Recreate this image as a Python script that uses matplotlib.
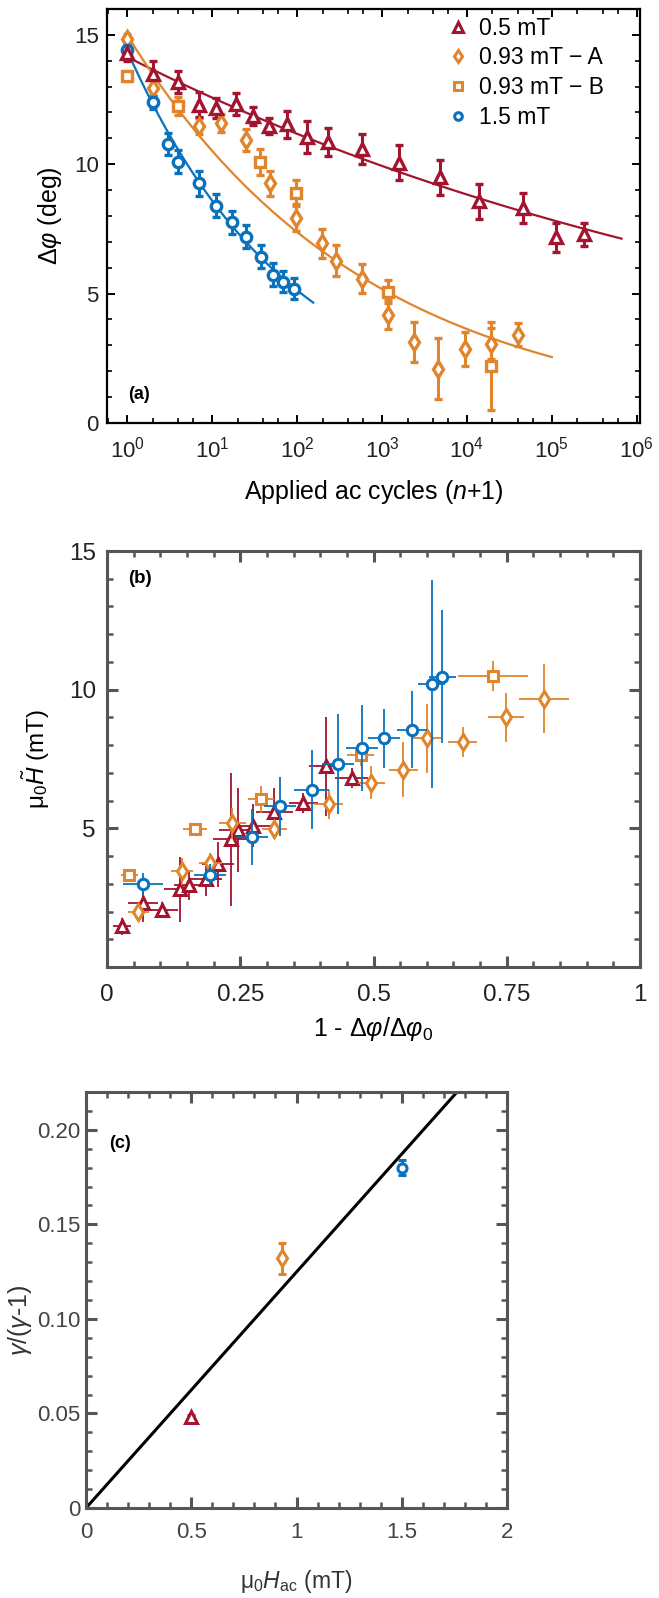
import numpy as np
import matplotlib
matplotlib.use("Agg")
import matplotlib.pyplot as plt
from matplotlib.ticker import LogLocator, MultipleLocator, FixedLocator, NullFormatter

plt.rcParams['font.family'] = ['Liberation Sans', 'DejaVu Sans']
plt.rcParams['mathtext.fontset'] = 'custom'
plt.rcParams['mathtext.rm'] = 'Liberation Sans'
plt.rcParams['mathtext.it'] = 'Liberation Sans:italic'
plt.rcParams['mathtext.bf'] = 'Liberation Sans:bold'

RED = '#A2142F'
ORANGE = '#E0852B'
BLUE = '#0A72BD'
GRAY = '#555555'

# ---------------- panel (a) data ----------------
red_a_x = [1, 2, 4, 7, 11, 19, 30, 47, 76, 130, 230, 580, 1600, 4800, 14000, 46000, 112000, 240000]
red_a_y = [14.3, 13.5, 13.18, 12.3, 12.17, 12.33, 11.86, 11.47, 11.55, 11.05, 10.85, 10.6, 10.06, 9.5, 8.57, 8.3, 7.17, 7.29]
red_a_e = [0.3, 0.48, 0.42, 0.48, 0.39, 0.42, 0.36, 0.32, 0.52, 0.61, 0.55, 0.58, 0.68, 0.68, 0.68, 0.58, 0.55, 0.45]

ora_A_x = [1, 2, 7, 12.8, 25, 48, 97, 196, 290, 580, 1170, 2400, 4560, 9500, 19000, 40000]
ora_A_y = [14.85, 12.95, 11.47, 11.59, 10.93, 9.26, 7.93, 6.94, 6.28, 5.58, 4.19, 3.14, 2.09, 2.87, 3.06, 3.41]
ora_A_e = [0.2, 0.3, 0.32, 0.36, 0.42, 0.48, 0.52, 0.55, 0.58, 0.55, 0.55, 0.78, 1.18, 0.66, 0.6, 0.45]

ora_B_x = [1, 4, 36.5, 97, 1170, 19000]
ora_B_y = [13.4, 12.25, 10.08, 8.9, 5.08, 2.2]
ora_B_e = [0.2, 0.35, 0.5, 0.5, 0.45, 1.7]

blue_a_x = [1, 2, 3, 4, 7, 11, 17, 25, 37.6, 52, 68, 92]
blue_a_y = [14.4, 12.4, 10.78, 10.1, 9.26, 8.4, 7.76, 7.2, 6.43, 5.73, 5.46, 5.19]
blue_a_e = [0.2, 0.25, 0.42, 0.45, 0.48, 0.45, 0.45, 0.45, 0.45, 0.45, 0.4, 0.4]

# power-law fits  dphi = A * (n+1)^(-p)
fit_amp = [14.15, 15.0, 14.4]
fit_exp = [0.0512, 0.154, 0.224]
fit_xmax = [6.6e5, 1.0e5, 155]
fit_col = [RED, ORANGE, BLUE]

legend_labels = ['0.5 mT', '0.93 mT \u2212 A', '0.93 mT \u2212 B', '1.5 mT']

# ---------------- panel (b) data ----------------
red_b_x = [0.028, 0.067, 0.104, 0.137, 0.154, 0.185, 0.209, 0.233, 0.246, 0.274, 0.314, 0.368, 0.410, 0.459]
red_b_y = [1.47, 2.30, 2.05, 2.80, 2.95, 3.17, 3.70, 4.60, 4.94, 5.10, 5.60, 5.90, 7.23, 6.80]
red_b_xe = [0.017, 0.028, 0.03, 0.03, 0.028, 0.03, 0.03, 0.035, 0.035, 0.035, 0.035, 0.027, 0.031, 0.031]
red_b_ye = [0.3, 0.66, 0.3, 1.17, 0.55, 0.6, 0.8, 2.4, 1.5, 0.77, 0.85, 0.36, 1.8, 0.36]

oraA_b_x = [0.059, 0.141, 0.194, 0.235, 0.314, 0.416, 0.496, 0.556, 0.600, 0.667, 0.748, 0.820]
oraA_b_y = [2.00, 3.45, 3.74, 5.18, 4.96, 5.86, 6.65, 7.12, 8.24, 8.10, 9.00, 9.68]
oraA_b_xe = [0.02, 0.02, 0.022, 0.025, 0.024, 0.027, 0.025, 0.027, 0.027, 0.028, 0.034, 0.047]
oraA_b_ye = [0.25, 0.48, 0.36, 0.57, 0.33, 0.54, 0.6, 1.0, 1.23, 0.54, 0.87, 1.24]

oraB_b_x = [0.042, 0.165, 0.289, 0.476, 0.724]
oraB_b_y = [3.30, 4.96, 6.04, 7.66, 10.50]
oraB_b_xe = [0.016, 0.022, 0.025, 0.025, 0.065]
oraB_b_ye = [0.18, 0.2, 0.5, 0.4, 0.55]

blue_b_x = [0.068, 0.194, 0.272, 0.325, 0.384, 0.434, 0.479, 0.519, 0.573, 0.609, 0.629]
blue_b_y = [2.98, 3.31, 4.68, 5.79, 6.40, 7.33, 7.90, 8.24, 8.56, 10.20, 10.47]
blue_b_xe = [0.0375, 0.03, 0.03, 0.03, 0.033, 0.03, 0.03, 0.03, 0.028, 0.026, 0.025]
blue_b_ye = [0.42, 0.4, 1.0, 1.05, 1.44, 1.8, 1.56, 1.08, 1.38, 3.75, 2.4]

# ---------------- panel (c) data ----------------
c_x = [0.5, 0.93, 1.5]
c_y = [0.048, 0.132, 0.180]
c_ye = [0.001, 0.008, 0.004]
c_markers = ['^', 'd', 'o']
c_colors = [RED, ORANGE, BLUE]
c_slope = 0.1248
c_line_x = [0.0, 2.0]

fig = plt.figure(figsize=(6.59, 15.98), dpi=100)

# ================= (a) =================
ax = fig.add_axes([107/659, 1-423/1598, 533/659, 414/1598])
ax.set_xscale('log')
for A, p, xm, col in zip(fit_amp, fit_exp, fit_xmax, fit_col):
    xx = np.logspace(0, np.log10(xm), 200)
    ax.plot(xx, A * xx ** (-p), color=col, lw=1.6, zorder=1)

ekw = dict(elinewidth=2.2, capsize=3, capthick=2.2, mfc='white', mew=2.4, ls='none', zorder=3)
ax.errorbar(ora_B_x, ora_B_y, yerr=ora_B_e, marker='s', ms=6.5, color=ORANGE, **ekw)
ax.errorbar(ora_A_x, ora_A_y, yerr=ora_A_e, marker='d', ms=8, color=ORANGE, **ekw)
ax.errorbar(blue_a_x, blue_a_y, yerr=blue_a_e, marker='o', ms=7.5, color=BLUE, **ekw)
ax.errorbar(red_a_x, red_a_y, yerr=red_a_e, marker='^', ms=9, color=RED, **ekw)

lh = [ax.plot([], [], ls='none', marker=m, ms=ms, mfc='white', mew=2.2, color=c)[0]
      for m, ms, c in zip(['^', 'd', 's', 'o'], [6.5, 6.5, 5.5, 5.5], [RED, ORANGE, ORANGE, BLUE])]
ax.legend(lh, legend_labels, loc='upper left', bbox_to_anchor=(0.615, 1.015), frameon=False,
          fontsize=16.5, handlelength=0.8, handletextpad=0.55, labelspacing=0.3, borderaxespad=0.2)

ax.set_xlim(0.58, 1.09e6)
ax.set_ylim(0, 16)
ax.set_xticks([1, 10, 100, 1e3, 1e4, 1e5, 1e6])
ax.xaxis.set_minor_locator(LogLocator(base=10, subs=(2, 4, 6), numticks=20))
ax.xaxis.set_minor_formatter(NullFormatter())
ax.yaxis.set_major_locator(FixedLocator([0, 5, 10, 15]))
ax.yaxis.set_minor_locator(MultipleLocator(1))
ax.tick_params(which='both', direction='in', top=True, right=True, color='black')
ax.tick_params(which='major', length=6, width=1.4, labelsize=16, pad=6, labelcolor='#222222')
ax.tick_params(axis='x', which='major', pad=10)
ax.tick_params(which='minor', length=3.5, width=1.2)
for s in ax.spines.values():
    s.set_linewidth(1.6)
ax.set_xlabel('Applied ac cycles ($n$+1)', fontsize=18, labelpad=11)
ax.set_ylabel(r'$\Delta\varphi$ (deg)', fontsize=18, labelpad=7)
ax.text(0.04, 0.068, '(a)', transform=ax.transAxes, fontsize=13, fontweight='bold', ha='left', va='center')

# ================= (b) =================
bx = fig.add_axes([107/659, 1-967/1598, 533/659, 416/1598])
bkw = dict(elinewidth=1.3, capsize=0, mfc='white', mew=2.2, ls='none')
bx.errorbar(red_b_x, red_b_y, xerr=red_b_xe, yerr=red_b_ye, marker='^', ms=9, color=RED, zorder=3, **bkw)
bx.errorbar(oraA_b_x, oraA_b_y, xerr=oraA_b_xe, yerr=oraA_b_ye, marker='d', ms=8, color=ORANGE, zorder=4, **bkw)
bx.errorbar(oraB_b_x, oraB_b_y, xerr=oraB_b_xe, yerr=oraB_b_ye, marker='s', ms=6.5, color=ORANGE, zorder=4, **bkw)
bx.errorbar(blue_b_x, blue_b_y, xerr=blue_b_xe, yerr=blue_b_ye, marker='o', ms=7.5, color=BLUE, zorder=5, **bkw)
bx.set_xlim(0, 1)
bx.set_ylim(0, 15)
bx.xaxis.set_major_locator(FixedLocator([0, 0.25, 0.5, 0.75, 1]))
bx.set_xticklabels(['0', '0.25', '0.5', '0.75', '1'])
bx.xaxis.set_minor_locator(MultipleLocator(0.05))
bx.yaxis.set_major_locator(FixedLocator([5, 10, 15]))
bx.yaxis.set_minor_locator(MultipleLocator(1))
bx.tick_params(which='both', direction='in', top=True, right=True, color=GRAY)
bx.tick_params(which='major', length=8, width=2.2, labelsize=17.5, pad=8, labelcolor='#222222')
bx.tick_params(axis='x', which='major', pad=12)
bx.tick_params(which='minor', length=4.5, width=1.8)
for s in bx.spines.values():
    s.set_linewidth(2.2)
    s.set_color(GRAY)
bx.set_xlabel(r'1 - $\Delta\varphi/\Delta\varphi_0$', fontsize=18, labelpad=7)
bx.set_ylabel('\u03bc$_0\\tilde{H}$ (mT)', fontsize=17.5, labelpad=12)
bx.text(0.04, 0.935, '(b)', transform=bx.transAxes, fontsize=13.5, fontweight='bold', ha='left', va='center')

# ================= (c) =================
cx = fig.add_axes([86/659, 1-1508/1598, 421/659, 416/1598])
cx.plot(c_line_x, [c_slope * v for v in c_line_x], color='black', lw=2.2, zorder=2)
for xv, yv, ye, m, col in zip(c_x, c_y, c_ye, c_markers, c_colors):
    cx.errorbar([xv], [yv], yerr=[ye], marker=m, ms=8 if m != 'o' else 6.5, color=col, mfc='white', mew=2.2,
                elinewidth=2.2, capsize=3, capthick=2.2, ls='none', zorder=3)
cx.set_xlim(0, 2)
cx.set_ylim(0, 0.22)
cx.xaxis.set_major_locator(FixedLocator([0, 0.5, 1, 1.5, 2]))
cx.set_xticklabels(['0', '0.5', '1', '1.5', '2'])
cx.xaxis.set_minor_locator(MultipleLocator(0.1))
cx.yaxis.set_major_locator(FixedLocator([0, 0.05, 0.10, 0.15, 0.20]))
cx.set_yticklabels(['0', '0.05', '0.10', '0.15', '0.20'])
cx.yaxis.set_minor_locator(MultipleLocator(0.01))
cx.tick_params(which='both', direction='in', top=True, right=True, color=GRAY)
cx.tick_params(which='major', length=8, width=2.2, labelsize=16, pad=4, labelcolor='#444444')
cx.tick_params(axis='x', which='major', pad=10)
cx.tick_params(which='minor', length=4.5, width=1.8)
for s in cx.spines.values():
    s.set_linewidth(2.2)
    s.set_color(GRAY)
cx.set_xlabel('\u03bc$_0$$H_{\\rm ac}$ (mT)', fontsize=16.5, labelpad=18, color='#333333')
cx.set_ylabel(r'$\gamma$/($\gamma$-1)', fontsize=18, color='#333333')
cx.yaxis.set_label_coords((34 - 86) / 421, 0.45)
cx.text(0.055, 0.875, '(c)', transform=cx.transAxes, fontsize=13, fontweight='bold', ha='left', va='center')

fig.savefig('out.png', dpi=100)
